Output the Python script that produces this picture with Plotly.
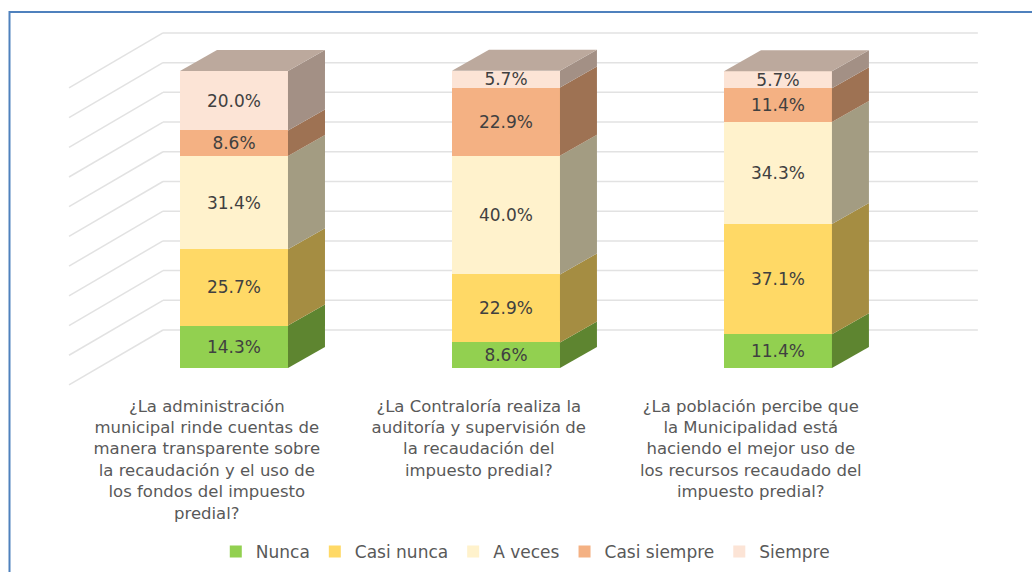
import plotly.graph_objects as go

questions = [
    "¿La administración<br>municipal rinde cuentas de<br>manera transparente sobre<br>la recaudación y el uso de<br>los fondos del impuesto<br>predial?",
    "¿La Contraloría realiza la<br>auditoría y supervisión de<br>la recaudación del<br>impuesto predial?",
    "¿La población percibe que<br>la Municipalidad está<br>haciendo el mejor uso de<br>los recursos recaudado del<br>impuesto predial?",
]
positions = [0, 1, 2]
series_names = ["Nunca", "Casi nunca", "A veces", "Casi siempre", "Siempre"]
nunca = [14.3, 8.6, 11.4]
casi_nunca = [25.7, 22.9, 37.1]
a_veces = [31.4, 40.0, 34.3]
casi_siempre = [8.6, 22.9, 11.4]
siempre = [20.0, 5.7, 5.7]
grid_values = [0, 10, 20, 30, 40, 50, 60, 70, 80, 90, 100]

front_colors = ["#92D050", "#FFD966", "#FFF2CC", "#F4B183", "#FCE4D6"]
side_colors = ["#5E8530", "#A58D42", "#A39C82", "#9E7253", "#A39085"]
top_color = "#BCA99D"
text_color = "#404040"
label_color = "#595959"
font_name = "DejaVu Sans"

# the fake 3D look: how far the bar's back edge is shifted from its front
bar_width = 0.397
depth_x = 0.136
depth_y = 7.07
# gridlines: floor corner at front, wall corner at back, wall right end
floor_x, floor_y = -0.6066, -5.7
wall_x, wall_y = -0.261, 12.8
wall_end = 2.735

series_values = [nunca, casi_nunca, a_veces, casi_siempre, siempre]

fig = go.Figure()

for name, values, color in zip(series_names, series_values, front_colors):
    fig.add_trace(
        go.Bar(
            x=positions,
            y=values,
            name=name,
            width=bar_width,
            marker={"color": color, "line": {"width": 0}},
            text=[f"{v:.1f}%" for v in values],
            textposition="inside",
            insidetextanchor="middle",
            textangle=0,
            textfont={"family": font_name, "size": 17, "color": text_color},
            hovertemplate="%{y:.1f}%<extra>" + name + "</extra>",
        )
    )

# side and top faces follow the stacked values
for i, pos in enumerate(positions):
    right = pos + bar_width / 2
    left = pos - bar_width / 2
    base = 0
    for values, color in zip(series_values, side_colors):
        top = base + values[i]
        fig.add_trace(
            go.Scatter(
                x=[right, right + depth_x, right + depth_x, right, right],
                y=[base, base + depth_y, top + depth_y, top, base],
                mode="lines",
                fill="toself",
                fillcolor=color,
                line={"width": 0},
                showlegend=False,
                hoverinfo="skip",
            )
        )
        base = top
    fig.add_trace(
        go.Scatter(
            x=[left, left + depth_x, right + depth_x, right, left],
            y=[base, base + depth_y, base + depth_y, base, base],
            mode="lines",
            fill="toself",
            fillcolor=top_color,
            line={"width": 0},
            showlegend=False,
            hoverinfo="skip",
        )
    )

# gridlines run along the floor and back wall, behind the bars
grid_line = {"color": "#E2E2E2", "width": 1.5}
for value in grid_values:
    fig.add_shape(
        type="line", xref="x", yref="y", layer="below", line=grid_line,
        x0=floor_x, y0=floor_y + value, x1=wall_x, y1=wall_y + value,
    )
    fig.add_shape(
        type="line", xref="x", yref="y", layer="below", line=grid_line,
        x0=wall_x, y0=wall_y + value, x1=wall_end, y1=wall_y + value,
    )

# blue outer frame, open past the right and bottom of the picture
fig.add_shape(
    type="rect", xref="paper", yref="paper",
    x0=9.5 / 1032, x1=1.02, y0=-1, y1=1 - 12 / 392,
    line={"color": "#4F81BD", "width": 2},
)

fig.update_xaxes(
    range=[-0.8603, 2.934],
    tickmode="array",
    tickvals=[p - 0.1 for p in positions],
    ticktext=questions,
    tickangle=0,
    ticks="",
    ticklabelstandoff=2,
    showgrid=False,
    zeroline=False,
    showline=False,
    tickfont={"family": font_name, "size": 16.5, "color": label_color},
)
fig.update_yaxes(
    range=[-8.08, 123.9],
    visible=False,
    showgrid=False,
    zeroline=False,
)
fig.update_layout(
    width=1032,
    height=572,
    barmode="stack",
    plot_bgcolor="white",
    paper_bgcolor="white",
    margin={"l": 0, "r": 0, "t": 0, "b": 180, "pad": 0},
    legend={
        "orientation": "h",
        "traceorder": "normal",
        "x": 0.509,
        "xanchor": "center",
        "y": -0.408,
        "yanchor": "middle",
        "font": {"family": font_name, "size": 17, "color": label_color},
    },
)
fig.update_traces(constraintext="none", selector={"type": "bar"})

# the page's default body margin would push the chart off by 8px
fig.write_html(
    "out.html",
    config={"displayModeBar": False},
    post_script="document.body.style.margin = '0';",
)
